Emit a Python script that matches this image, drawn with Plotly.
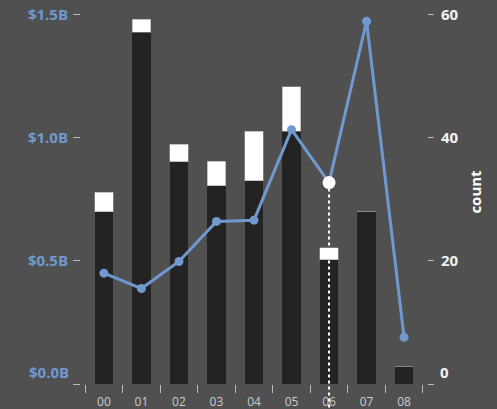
import plotly.graph_objects as go

categories = ["00", "01", "02", "03", "04", "05", "06", "07", "08"]
base_values = [0.70e9, 1.428e9, 0.902e9, 0.804e9, 0.826e9, 1.026e9, 0.504e9, 0.699e9, 0.073e9]
top_values = [0.079e9, 0.052e9, 0.072e9, 0.100e9, 0.200e9, 0.180e9, 0.049e9, 0.0, 0.0]
counts = [18.0, 15.5, 19.9, 26.4, 26.6, 41.3, 32.7, 58.9, 7.6]
left_ticks = [0, 0.5e9, 1.0e9, 1.5e9]
left_labels = ["", "$0.5B", "$1.0B", "$1.5B"]
right_ticks = [0, 20, 40, 60]
right_labels = ["", "20", "40", "60"]
hover_index = 6

BG = "#505050"
BLUE = "#7099d0"
LEFT_MAX = 1.5e9 * 384 / 369.5
RIGHT_MAX = 60 * 384 / 369.5

fig = go.Figure()
fig.add_trace(go.Bar(x=categories, y=base_values, marker=dict(color="#232323", line=dict(width=0)),
                     showlegend=False))
fig.add_trace(go.Bar(x=categories, y=top_values, marker=dict(color="#ffffff", line=dict(width=0.6, color="#9a9a9a")),
                     showlegend=False))
fig.add_trace(go.Scatter(x=categories, y=counts, yaxis="y2", mode="lines+markers",
                         line=dict(color=BLUE, width=3), marker=dict(color=BLUE, size=9),
                         showlegend=False, cliponaxis=False))
# hover highlight marker
fig.add_trace(go.Scatter(x=[categories[hover_index]], y=[counts[hover_index]], yaxis="y2", mode="markers",
                         marker=dict(color="#ffffff", size=13), showlegend=False, cliponaxis=False))

fig.add_shape(type="line", xref="x", yref="paper",
              x0=categories[hover_index], x1=categories[hover_index],
              y0=counts[hover_index] / RIGHT_MAX, y1=-0.07,
              line=dict(color="#ffffff", width=2, dash="dot"), layer="above")

fig.add_annotation(text="$0.0B", xref="paper", yref="paper", x=0, y=0.03, xanchor="right", yanchor="middle",
                   xshift=-10, showarrow=False, font=dict(family="Open Sans", size=15, color=BLUE, weight="bold"))
fig.add_annotation(text="0", xref="paper", yref="paper", x=1, y=0.03, xanchor="left", yanchor="middle",
                   xshift=11, showarrow=False, font=dict(family="Open Sans", size=15, color="#f2f2f2", weight="bold"))

fig.update_layout(
    width=497, height=409,
    margin=dict(l=81, r=70, t=0, b=25),
    paper_bgcolor=BG, plot_bgcolor=BG,
    barmode="stack", bargap=0.5,
    font=dict(family="Open Sans", color="#dddddd"),
    xaxis=dict(type="category", tickson="boundaries", ticks="outside", ticklen=8, tickcolor="#bbbbbb",
               tickwidth=1, showgrid=False, showline=False, zeroline=False,
               tickfont=dict(size=12, color="#cccccc"), ticklabelstandoff=9),
    yaxis=dict(range=[0, LEFT_MAX], tickvals=left_ticks, ticktext=left_labels, ticks="outside", ticklen=7,
               tickcolor="#bbbbbb", showgrid=False, zeroline=False, showline=False,
               tickfont=dict(size=15, color=BLUE, weight="bold"), ticklabelstandoff=2),
    yaxis2=dict(range=[0, RIGHT_MAX], overlaying="y", side="right", tickvals=right_ticks, ticktext=right_labels,
                ticks="outside", ticklen=6, tickcolor="#bbbbbb", showgrid=False, zeroline=False, showline=False,
                tickfont=dict(size=15, color="#f2f2f2", weight="bold"), ticklabelstandoff=4,
                title=dict(text="count", font=dict(size=15, color="#ffffff", weight="bold"), standoff=12)),
)

fig.write_html("out.html")
